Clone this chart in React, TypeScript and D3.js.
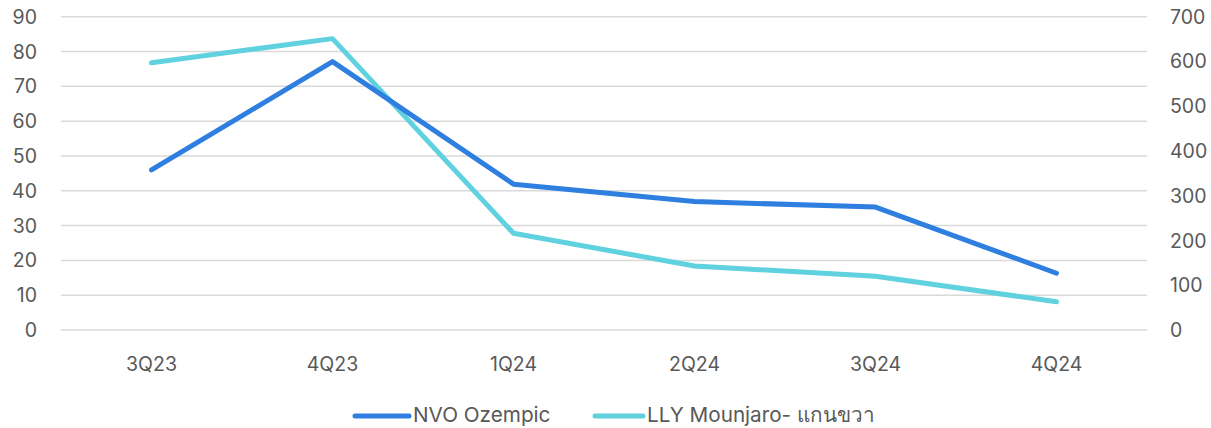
import React from "react";
import * as d3 from "d3";

const categories = ["3Q23", "4Q23", "1Q24", "2Q24", "3Q24", "4Q24"];
const nvoOzempic = [46, 77.1, 41.9, 36.9, 35.3, 16.3];
const llyMounjaro = [597, 651, 216, 143, 120, 63];
const leftTicks = [0, 10, 20, 30, 40, 50, 60, 70, 80, 90];
const rightTicks = [0, 100, 200, 300, 400, 500, 600, 700];
const seriesNames = ["NVO Ozempic", "LLY Mounjaro- แกนขวา"];

const W = 1211, H = 428;
const plotLeft = 61, plotRight = 1147, plotTop = 16.7, plotBottom = 330;
const colors = ["#2E7FE0", "#5FD1DF"];
const font = "Inter, 'Noto Sans', sans-serif";
const textColor = "#595959";

export default function App() {
  const x = d3.scaleBand<string>().domain(categories).range([plotLeft, plotRight]);
  const yL = d3.scaleLinear().domain([0, 90]).range([plotBottom, plotTop]);
  const yR = d3.scaleLinear().domain([0, 700]).range([plotBottom, plotTop]);
  const cx = (c: string) => (x(c) ?? 0) + x.bandwidth() / 2;

  const lineL = d3.line<number>().x((_, i) => cx(categories[i])).y((d) => yL(d));
  const lineR = d3.line<number>().x((_, i) => cx(categories[i])).y((d) => yR(d));

  return (
    <svg width={W} height={H} style={{ position: "absolute", left: 0, top: 0, background: "#fff" }} fontFamily={font}>
      {leftTicks.map((t) => (
        <g key={t}>
          <line x1={plotLeft} x2={plotRight} y1={yL(t)} y2={yL(t)} stroke="#D9D9D9" strokeWidth={1.5} />
          <text x={37} y={yL(t)} dy="0.36em" textAnchor="end" fontSize={19.5} fill={textColor}>{t}</text>
        </g>
      ))}
      {rightTicks.map((t) => (
        <text key={t} x={1170} y={yR(t)} dy="0.36em" textAnchor="start" fontSize={19.5} fill={textColor}>{t}</text>
      ))}
      {categories.map((c) => (
        <text key={c} x={cx(c)} y={364} dy="0.36em" textAnchor="middle" fontSize={19.5} fill={textColor}>{c}</text>
      ))}
      <path d={lineR(llyMounjaro) ?? ""} fill="none" stroke={colors[1]} strokeWidth={5} strokeLinejoin="round" strokeLinecap="round" />
      <path d={lineL(nvoOzempic) ?? ""} fill="none" stroke={colors[0]} strokeWidth={5} strokeLinejoin="round" strokeLinecap="round" />
      <g>
        <line x1={355} x2={409} y1={416} y2={416} stroke={colors[0]} strokeWidth={5} strokeLinecap="round" />
        <text x={413} y={415} dy="0.36em" fontSize={20.7} fill={textColor}>{seriesNames[0]}</text>
        <line x1={595} x2={643} y1={416} y2={416} stroke={colors[1]} strokeWidth={5} strokeLinecap="round" />
        <text x={647} y={415} dy="0.36em" fontSize={20.7} fill={textColor}>{seriesNames[1]}</text>
      </g>
    </svg>
  );
}
